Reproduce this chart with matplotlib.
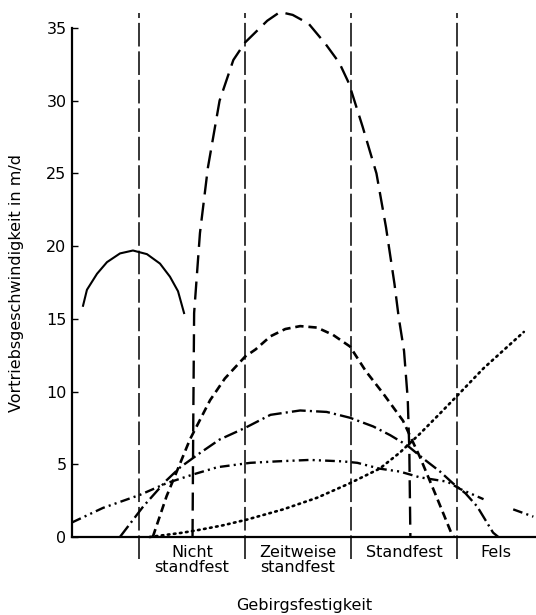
import numpy as np
import matplotlib
matplotlib.use("Agg")
import matplotlib.pyplot as plt

plt.rcParams["font.family"] = ["DejaVu Sans"]
plt.rcParams["lines.scale_dashes"] = False

# Gebirgsfestigkeit: Klassengrenzen bei x = 1, 2, 3, 4
grenzen = [1, 2, 3, 4]
klassen = ["Nicht\nstandfest", "Zeitweise\nstandfest", "Standfest", "Fels"]
klassen_x = [1.5, 2.5, 3.5, 4.37]
y_ticks = [0, 5, 10, 15, 20, 25, 30, 35]

# Kurven (Vortriebsgeschwindigkeit in m/d)
solid_x = [0.472, 0.509, 0.604, 0.698, 0.821, 0.943, 1.075, 1.198, 1.292, 1.368, 1.425]
solid_y = [15.9, 17.0, 18.1, 18.9, 19.5, 19.7, 19.45, 18.8, 17.9, 16.9, 15.4]

gross_x = [1.505, 1.512, 1.52, 1.575, 1.65, 1.76, 1.89, 2.0, 2.21, 2.33, 2.45,
           2.60, 2.76, 2.89, 2.98, 3.11, 3.24, 3.33, 3.41, 3.45, 3.50, 3.535,
           3.55, 3.555, 3.56]
gross_y = [0, 8, 15.4, 20.9, 25.4, 30.0, 32.8, 34.0, 35.5, 36.1, 35.9,
           35.3, 33.9, 32.6, 31.2, 28.2, 25.0, 21.3, 17.4, 15.1, 12.8, 9.5,
           6.0, 3.0, 0]

mittel_x = [1.13, 1.26, 1.39, 1.48, 1.67, 1.81, 2.0, 2.10, 2.24, 2.38, 2.52, 2.68,
            2.83, 2.99, 3.14, 3.30, 3.49, 3.65, 3.81, 3.95, 3.97]
mittel_y = [0, 2.8, 5.1, 6.7, 9.4, 10.9, 12.4, 12.9, 13.8, 14.3, 14.5, 14.4,
            13.9, 13.1, 11.4, 9.9, 8.0, 5.5, 2.7, 0.2, 0]

strichpunkt_x = [0.82, 1.04, 1.26, 1.39, 1.58, 1.76, 2.0, 2.24, 2.52, 2.77, 2.99,
                 3.21, 3.37, 3.53, 3.68, 3.84, 3.96, 4.08, 4.19, 4.34, 4.39]
strichpunkt_y = [0, 2.1, 3.9, 4.8, 5.8, 6.7, 7.5, 8.4, 8.7, 8.6, 8.2,
                 7.6, 7.0, 6.3, 5.4, 4.5, 3.7, 3.0, 2.1, 0.3, 0]

zweipunkt_x = [0.368, 0.66, 1.01, 1.26, 1.51, 1.74, 2.05, 2.30, 2.61, 2.92, 3.06,
               3.27, 3.46, 3.65, 3.91, 4.03, 4.25, np.nan, 4.53, 4.72]
zweipunkt_y = [1.0, 2.0, 2.9, 3.7, 4.3, 4.8, 5.1, 5.2, 5.3, 5.2, 5.1,
               4.7, 4.5, 4.1, 3.8, 3.3, 2.6, np.nan, 1.9, 1.4]

punkt_x = [1.10, 1.415, 1.575, 1.79, 2.02, 2.36, 2.68, 2.99, 3.27, 3.46, 3.65,
           3.84, 4.0, 4.25, 4.63]
punkt_y = [0, 0.3, 0.5, 0.8, 1.2, 1.9, 2.7, 3.7, 4.7, 5.8, 7.1,
           8.5, 9.7, 11.6, 14.1]

fig = plt.figure(figsize=(5.36, 6.15), dpi=100)
ax = fig.add_axes([72 / 536, 78 / 615, 464 / 536, 509 / 615])

for g in grenzen:
    ax.plot([g, g], [-1.5, 36.0], color="k", lw=1.1, dashes=(17, 3.5),
            clip_on=False)

ax.plot(solid_x, solid_y, color="k", lw=1.5, clip_on=False)
ax.plot(gross_x, gross_y, color="k", lw=1.7, dashes=(13, 6), clip_on=False)
ax.plot(mittel_x, mittel_y, color="k", lw=1.9, dashes=(6, 3.5), clip_on=False)
ax.plot(strichpunkt_x, strichpunkt_y, color="k", lw=1.7,
        dashes=(10, 3, 1.5, 3), clip_on=False)
ax.plot(zweipunkt_x, zweipunkt_y, color="k", lw=1.7,
        dashes=(7, 3, 1.5, 3, 1.5, 3), clip_on=False)
ax.plot(punkt_x, punkt_y, color="k", lw=1.9, dashes=(1.2, 3.2),
        dash_capstyle="round", clip_on=False)

ax.set_xlim(0.368, 4.745)
ax.set_ylim(0, 35)
ax.spines["top"].set_visible(False)
ax.spines["right"].set_visible(False)
ax.spines["left"].set_linewidth(1.6)
ax.spines["bottom"].set_linewidth(1.6)

ax.set_yticks(y_ticks)
ax.tick_params(axis="y", direction="in", length=4, width=1, labelsize=11.5, pad=4)
ax.set_xticks(klassen_x)
ax.set_xticklabels(klassen)
ax.tick_params(axis="x", length=0, labelsize=11.5, pad=6)
for lbl in ax.get_xticklabels():
    lbl.set_linespacing(1.0)

ax.set_ylabel("Vortriebsgeschwindigkeit in m/d", fontsize=11.5, labelpad=16)
ax.set_xlabel("Gebirgsfestigkeit", fontsize=11.5, labelpad=16)

fig.savefig("out.png", dpi=100)
